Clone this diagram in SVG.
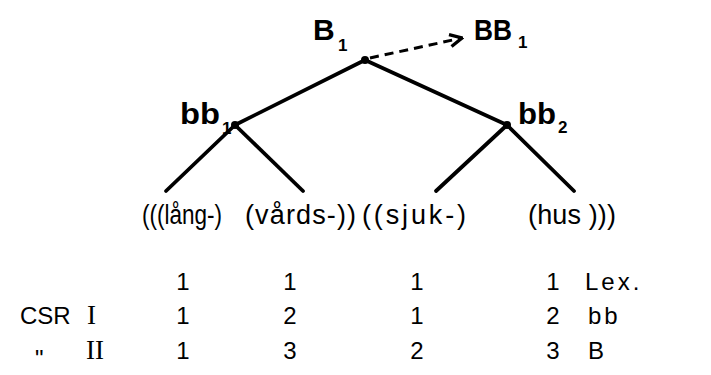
<svg xmlns="http://www.w3.org/2000/svg" width="711" height="375" viewBox="0 0 711 375">
<style>
.lbl{font-family:"Liberation Sans",sans-serif;font-weight:bold;font-size:30px;fill:#000}
.sub{font-family:"Liberation Sans",sans-serif;font-weight:bold;font-size:17px;fill:#000}
.w{font-family:"Liberation Sans",sans-serif;font-size:27px;fill:#000}
.t{font-family:"Liberation Sans",sans-serif;font-size:24px;fill:#000}
.r{font-family:"Liberation Serif",serif;font-size:27px;fill:#000}
.e{stroke:#000;stroke-width:3.8;fill:none;stroke-linecap:round}
</style>
<defs>
<marker id="ah" viewBox="0 0 10 10" refX="9" refY="5" markerWidth="5" markerHeight="5" orient="auto">
<path d="M1,1 L9,5 L1,9" fill="none" stroke="#000" stroke-width="2.2"/>
</marker>
</defs>
<rect width="711" height="375" fill="#fff"/>
<g id="connectors">
<line class="e" x1="365" y1="60" x2="235" y2="125"/>
<line class="e" x1="365" y1="60" x2="507" y2="125"/>
<line class="e" x1="235" y1="125" x2="166" y2="191"/>
<line class="e" x1="235" y1="125" x2="303" y2="191"/>
<line class="e" x1="507" y1="125" x2="436" y2="191"/>
<line class="e" x1="507" y1="125" x2="574" y2="191"/>
<line x1="370" y1="58" x2="462" y2="38" stroke="#000" stroke-width="3" stroke-dasharray="9,6" marker-end="url(#ah)"/>
</g>
<g id="B1">
<circle cx="365" cy="60" r="4"/>
<text class="lbl" x="313" y="40">B</text><text class="sub" x="338" y="51">1</text>
</g>
<g id="BB1">
<text class="lbl" x="474" y="40" textLength="38" lengthAdjust="spacingAndGlyphs">BB</text><text class="sub" x="518" y="48">1</text>
</g>
<g id="bb1">
<circle cx="235" cy="125" r="4"/>
<text class="lbl" x="180" y="124" textLength="40" lengthAdjust="spacingAndGlyphs">bb</text><text class="sub" x="222" y="134">1</text>
</g>
<g id="bb2">
<circle cx="507" cy="125" r="4"/>
<text class="lbl" x="518" y="124" textLength="38" lengthAdjust="spacingAndGlyphs">bb</text><text class="sub" x="558" y="133">2</text>
</g>
<g id="words">
<text class="w" x="142" y="224" textLength="80" lengthAdjust="spacingAndGlyphs">(((lång-)</text>
<text class="w" x="245" y="224" textLength="111" lengthAdjust="spacing">(vårds-))</text>
<text class="w" x="362" y="224" textLength="104" lengthAdjust="spacing">((sjuk-)</text>
<text class="w" x="528" y="224" textLength="88" lengthAdjust="spacing">(hus )))</text>
</g>
<g id="table">
<text class="t" x="183" y="290" text-anchor="middle">1</text>
<text class="t" x="290" y="290" text-anchor="middle">1</text>
<text class="t" x="417" y="290" text-anchor="middle">1</text>
<text class="t" x="553" y="290" text-anchor="middle">1</text>
<text class="t" x="585" y="290" letter-spacing="3">Lex.</text>
<text class="t" x="20" y="324">CSR</text>
<text class="r" x="87" y="324">I</text>
<text class="t" x="183" y="324" text-anchor="middle">1</text>
<text class="t" x="290" y="324" text-anchor="middle">2</text>
<text class="t" x="417" y="324" text-anchor="middle">1</text>
<text class="t" x="553" y="324" text-anchor="middle">2</text>
<text class="t" x="588" y="324" letter-spacing="3">bb</text>
<text class="t" x="35" y="367" font-size="30">"</text>
<text class="r" x="86" y="359">II</text>
<text class="t" x="183" y="359" text-anchor="middle">1</text>
<text class="t" x="290" y="359" text-anchor="middle">3</text>
<text class="t" x="417" y="359" text-anchor="middle">2</text>
<text class="t" x="553" y="359" text-anchor="middle">3</text>
<text class="t" x="588" y="359">B</text>
</g>
</svg>
